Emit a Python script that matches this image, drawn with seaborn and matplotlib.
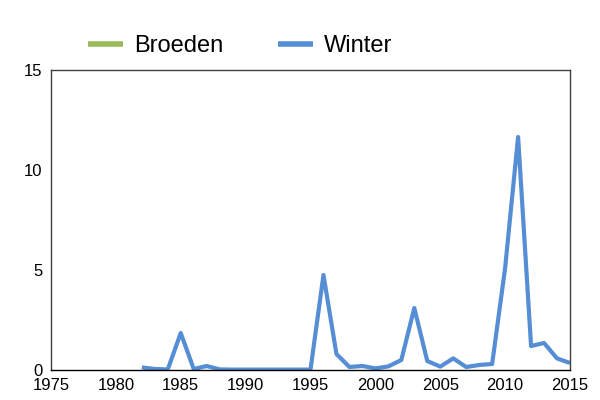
import numpy as np
import pandas as pd
import seaborn as sns
import matplotlib.pyplot as plt

sns.set_style("white")
plt.rcParams["font.family"] = ["Liberation Sans", "DejaVu Sans"]
plt.rcParams["text.color"] = "black"
plt.rcParams["xtick.color"] = "black"
plt.rcParams["ytick.color"] = "black"

years = list(range(1982, 2016))
winter = [0.13, 0.05, 0.03, 1.85, 0.05, 0.2, 0.03, 0.02, 0.02, 0.02,
          0.02, 0.02, 0.02, 0.02, 4.75, 0.8, 0.15, 0.2, 0.08, 0.18,
          0.5, 3.1, 0.45, 0.17, 0.58, 0.15, 0.25, 0.3, 5.1, 11.65,
          1.2, 1.35, 0.58, 0.35]
broeden = [np.nan] * len(years)

data = pd.DataFrame({"jaar": years, "Winter": winter, "Broeden": broeden})

fig = plt.figure(figsize=(6, 4), dpi=100)
ax = fig.add_axes([0.085, 0.075, 0.865, 0.75])

ax.plot(data["jaar"], data["Broeden"], color="#9BBB59", lw=3,
        solid_capstyle="butt", label="Broeden")
sns.lineplot(x="jaar", y="Winter", data=data, ax=ax, color="#558ED5",
             lw=3, solid_capstyle="butt", label="Winter")

ax.set_xlim(1975, 2015)
ax.set_ylim(0, 15)
ax.set_xticks(range(1975, 2016, 5))
ax.set_yticks([0, 5, 10, 15])
ax.tick_params(length=0, labelsize=12, pad=6)
ax.set_xlabel("")
ax.set_ylabel("")
for s in ["left", "top", "right"]:
    ax.spines[s].set_color("#404040")
    ax.spines[s].set_linewidth(1)
ax.spines["bottom"].set_color("black")
ax.spines["bottom"].set_linewidth(1)

leg = ax.legend(loc="center", bbox_to_anchor=(0.364, 1.08), ncol=2, frameon=False,
                fontsize=17, handlelength=1.5, handletextpad=0.45,
                columnspacing=2.3, borderaxespad=0)
for h in leg.get_lines():
    h.set_linewidth(4)
    h.set_solid_capstyle("butt")

fig.savefig("out.png", dpi=100)
